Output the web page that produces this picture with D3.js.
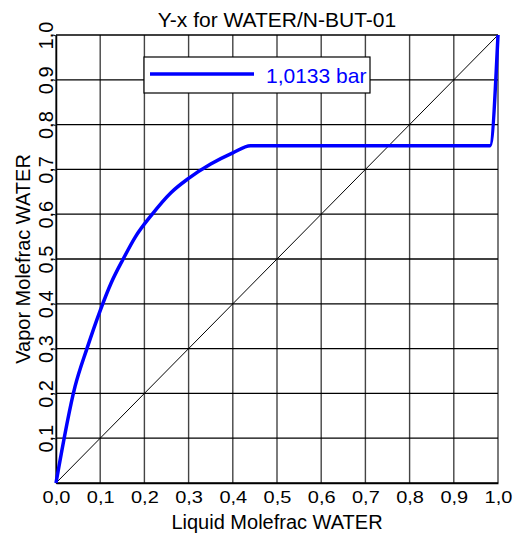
<!DOCTYPE html>
<html>
<head>
<meta charset="utf-8">
<script src="https://cdn.jsdelivr.net/npm/d3@7"></script>
<style>
  body { margin: 0; background: #fff; }
  text { font-family: "Liberation Sans", Arial, sans-serif; }
</style>
</head>
<body>
<div id="chart"></div>
<script>
// Y-x curve, WATER / N-BUT-01 at 1,0133 bar
const liquidX = [0, 0.043, 0.07, 0.1, 0.125, 0.152, 0.18, 0.216, 0.26, 0.3, 0.35, 0.4, 0.44, 0.982, 1.0]
const vaporY = [0, 0.215, 0.3, 0.385, 0.447, 0.5, 0.55, 0.598, 0.648, 0.68, 0.712, 0.737, 0.753, 0.753, 1.0]
const xTicks = [0, 0.1, 0.2, 0.3, 0.4, 0.5, 0.6, 0.7, 0.8, 0.9, 1.0]
const yTicks = [0.1, 0.2, 0.3, 0.4, 0.5, 0.6, 0.7, 0.8, 0.9, 1.0]
const seriesName = '1,0133 bar'

const W = 513
const H = 535
const margin = { top: 35, right: 15, bottom: 52, left: 56 }
const width = W - margin.left - margin.right
const height = H - margin.top - margin.bottom

const svg = d3.select('#chart')
  .append('svg')
  .attr('width', W)
  .attr('height', H)

const g = svg.append('g')
  .attr('transform', `translate(${margin.left},${margin.top})`)

const x = d3.scaleLinear().domain([0, 1]).range([0, width])
const y = d3.scaleLinear().domain([0, 1]).range([height, 0])
const fmt = d => d3.format('.1f')(d).replace('.', ',')

// grid
g.selectAll('.vgrid')
  .data(xTicks)
  .enter()
  .append('line')
  .attr('x1', d => x(d)).attr('x2', d => x(d))
  .attr('y1', 0).attr('y2', height)
  .attr('stroke', '#444')
  .attr('stroke-width', 1.4)

g.selectAll('.hgrid')
  .data([0].concat(yTicks))
  .enter()
  .append('line')
  .attr('y1', d => y(d)).attr('y2', d => y(d))
  .attr('x1', 0).attr('x2', width)
  .attr('stroke', '#000')
  .attr('stroke-width', 1.3)

// axes
const xAxis = g.append('g')
  .attr('transform', `translate(0,${height})`)
  .call(d3.axisBottom(x).tickValues(xTicks).tickFormat(fmt).tickSize(0))
xAxis.select('.domain').attr('stroke', '#000').attr('stroke-width', 1.5)
xAxis.selectAll('text')
  .style('font-size', '20px')
  .attr('fill', '#000')
  .attr('y', 20 / 0.82)
  .attr('dy', 0)
  .attr('transform', 'scale(1,0.82)')

const yAxis = g.append('g')
  .call(d3.axisLeft(y).tickValues(yTicks).tickFormat(fmt).tickSize(0))
yAxis.select('.domain').attr('stroke', '#000').attr('stroke-width', 1.5)
yAxis.selectAll('text')
  .style('font-size', '20px')
  .attr('fill', '#000')
  .attr('x', 0)
  .attr('dy', 0)
  .attr('text-anchor', 'middle')
  .attr('transform', 'translate(-3,0) rotate(-90)')

// diagonal reference
g.append('line')
  .attr('x1', x(0)).attr('y1', y(0))
  .attr('x2', x(1)).attr('y2', y(1))
  .attr('stroke', '#000')
  .attr('stroke-width', 1)

// curve
const pts = liquidX.map((v, i) => [v, vaporY[i]])
g.append('path')
  .datum(pts)
  .attr('fill', 'none')
  .attr('stroke', '#0000ff')
  .attr('stroke-width', 3.5)
  .attr('stroke-linejoin', 'round')
  .attr('d', d3.line().x(d => x(d[0])).y(d => y(d[1])).curve(d3.curveMonotoneX))

// legend
const legend = svg.append('g')
  .attr('transform', 'translate(144,57)')
legend.append('rect')
  .attr('width', 226)
  .attr('height', 36)
  .attr('fill', '#fff')
  .attr('stroke', '#000')
  .attr('stroke-width', 1.2)
legend.append('line')
  .attr('x1', 6).attr('x2', 110)
  .attr('y1', 17).attr('y2', 17)
  .attr('stroke', '#0000ff')
  .attr('stroke-width', 3.5)
legend.append('text')
  .attr('x', 122)
  .attr('y', 26)
  .style('font-size', '21px')
  .attr('fill', '#0000ff')
  .text(seriesName)

// title and labels
svg.append('text')
  .attr('x', margin.left + width / 2)
  .attr('y', 27)
  .attr('text-anchor', 'middle')
  .style('font-size', '21px')
  .text('Y-x for WATER/N-BUT-01')

svg.append('text')
  .attr('x', margin.left + width / 2)
  .attr('y', 529)
  .attr('text-anchor', 'middle')
  .style('font-size', '20px')
  .text('Liquid Molefrac WATER')

svg.append('text')
  .attr('transform', `translate(30,${margin.top + height / 2}) rotate(-90)`)
  .attr('text-anchor', 'middle')
  .style('font-size', '20px')
  .text('Vapor Molefrac WATER')
</script>
</body>
</html>
